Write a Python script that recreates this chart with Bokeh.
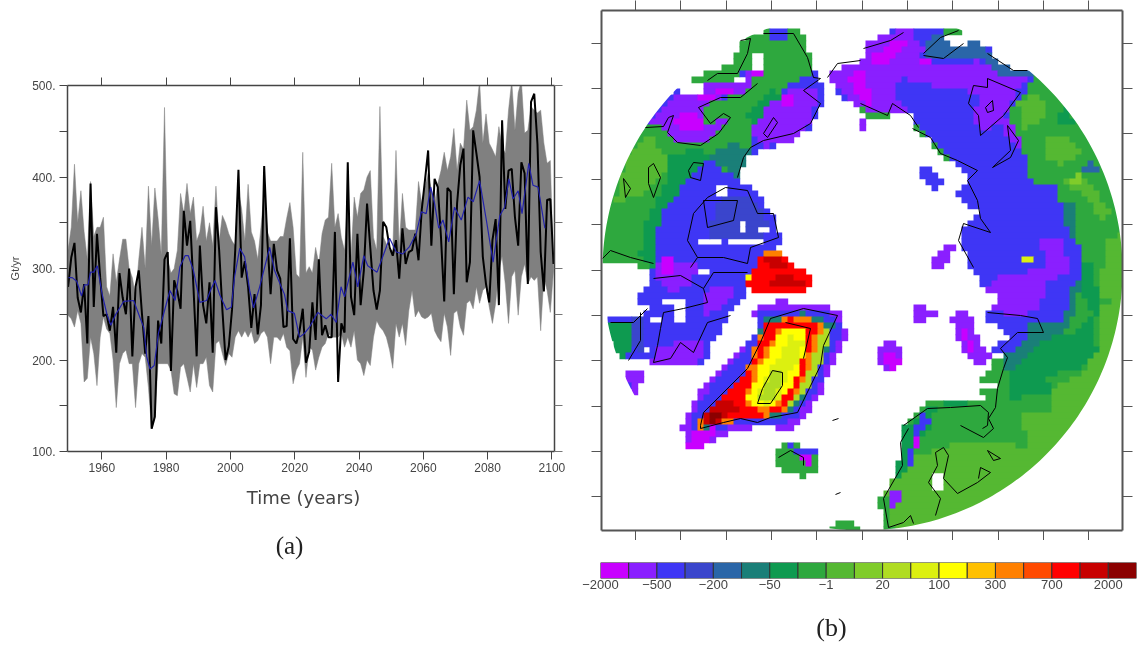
import numpy as np
from bokeh.plotting import figure
from bokeh.layouts import row, column
from bokeh.embed import file_html
from bokeh.resources import INLINE
from bokeh.core.properties import value
from bokeh.models import (Range1d, LinearAxis, FixedTicker)

# ---------- panel (a) data
first_time = 1949.5
black_series = [280,312,328,268,252,283,218,393,258,338,290,248,250,232,258,208,295,268,250,300,204,280,298,250,207,248,125,138,243,218,310,318,188,287,275,256,363,325,352,280,204,325,260,240,285,208,367,320,255,200,215,255,320,408,290,308,280,235,272,228,260,412,330,272,327,298,289,236,237,333,
 223,218,232,256,197,209,263,222,310,227,238,225,225,340,176,240,230,416,269,249,338,260,298,371,323,276,255,276,351,345,323,314,331,289,344,305,318,320,338,309,364,396,429,325,398,389,334,264,388,384,272,371,413,431,285,307,451,426,400,313,283,263,331,354,260,462,365,407,409,356,325,416,404,283,482,491,436,318,275,375,376,305]
band_upper = [320,345,414,350,385,340,310,395,335,345,345,356,280,270,316,285,310,332,332,300,290,270,310,345,300,390,325,388,355,315,476,310,295,300,320,382,360,393,360,378,330,340,368,330,350,325,390,330,358,350,338,330,325,385,365,330,392,340,330,310,345,385,340,330,330,330,335,335,355,372,
 345,294,290,427,295,302,295,323,305,338,353,356,415,345,360,334,320,378,312,378,356,382,386,400,407,334,320,477,335,327,320,320,429,323,382,345,342,342,342,395,371,389,404,386,371,393,407,427,407,422,453,407,437,430,484,451,455,473,505,437,469,437,430,422,455,433,426,473,505,451,492,505,448,451,477,473,470,473,437,415,418,300]
band_lower = [249,245,236,254,240,176,180,225,207,172,225,247,234,229,200,148,196,207,211,196,196,148,196,207,203,170,125,138,196,196,196,196,189,163,161,192,196,181,165,196,170,196,196,203,172,165,218,221,207,194,207,203,225,232,225,232,225,232,218,221,229,232,225,196,225,225,221,229,214,210,
 174,189,196,225,181,214,211,189,203,214,218,229,225,225,225,229,214,225,214,232,200,196,183,200,194,225,243,236,232,225,211,191,240,225,240,216,254,276,247,254,247,245,247,251,232,225,220,251,236,205,251,254,236,227,262,265,256,280,262,276,280,258,240,262,298,313,283,240,291,298,249,291,305,283,291,287,291,232,291,276,252,298]
blue_time = [1949.6,1950.8,1952.2,1953.7,1954.6,1955.7,1956.5,1957.5,1958.6,1960.1,1961.6,1962.8,1964.2,1966.8,1969.9,1972,1973,1974,1975,1976.3,1977.6,1979.2,1981.2,1982.8,1984.3,1985.9,1986.9,1988.5,1990.5,1992.6,1993.8,1995.2,1996.7,1998.8,2000.3,2001.3,2002.9,2004.4,2006,2007.2,2009.1,2010.4,2012.2,2013.7,2015.8,
 2016.8,2017.8,2019.9,2021.5,2023,2024.6,2027.2,2029.8,2031.3,2032.9,2034.4,2035.5,2038.1,2039.6,2041.5,2042.7,2045.6,2049.5,2051.6,2053.6,2055.7,2057.8,2059.4,2060.9,2062.3,2063.5,2064.8,2066.1,2067.9,2069.7,2071.8,2073.9,2075.5,2077.5,2079.6,2081.7,2083.8,2085.3,2086.6,2087.9,2089.5,2090.7,2092.8,2094.1,2095.7,2097.8]
blue_values = [290,290,286,270,282,282,296,296,303,272,250,238,249,264,265,245,236,203,190,194,229,250,276,265,302,314,314,298,263,265,276,287,271,255,258,291,322,313,276,257,280,298,323,298,280,
 272,254,251,225,229,236,252,245,250,241,280,269,307,280,314,303,296,333,318,316,324,338,362,360,389,371,344,353,329,367,353,378,373,396,353,307,358,367,398,376,385,360,415,391,389,344]
year_ticks = [1960,1980,2000,2020,2040,2060,2080,2100]
gt_ticks = [100,200,300,400,500]
gt_minor = [150,250,350,450]

# ---------- panel (b) data
level_colors = ["#C800FF","#8A1FFF","#3F36F5","#3A45CC","#2A66A8","#1A7F78","#0E9A50","#2EA83E","#55B832","#80CC2A","#B0DC22","#DCF010","#FFFF00","#FFC000","#FF8000","#FF4A00","#FF0000","#C80000","#8B0000"]
level_labels = ["\u22122000","\u2212500","\u2212200","\u221250","\u22121","20","100","300","700","2000"]
lon_ticks = [635,680,726,771,816,862,907,952,998,1043,1088]
lat_ticks = [43,88,133,179,224,270,315,360,406,451,496]

def box(x0,x1,y0,y1): return [(x0,y0),(x1,y0),(x1,y1),(x0,y1)]

canada = [(590,262),(615,262),(640,265),(653,266),(647,285),(632,298),(653,308),(640,315),(613,316),(600,323),(618,358),(623,368),(630,400),(645,372),(650,362),(670,363),(700,362),(707,355),(713,338),(723,325),(730,308),(747,292),(745,282),(765,270),(775,250),(782,240),(770,210),(753,190),(737,177),(747,157),(763,148),(793,138),(810,127),(820,107),(823,87),(813,70),(808,50),(803,33),(787,26),(763,30),(740,40),(733,60),(713,70),(690,78),(672,90),(640,110),(590,200)]
canada_layers = [
 (7,[(590,266),(653,266),(655,240),(662,213),(673,197),(690,177),(707,155),(725,170),(735,178),(747,157),(753,135),(760,123),(745,113),(763,107),(787,85),(812,72),(808,50),(803,33),(787,26),(763,30),(740,40),(733,60),(740,70),(746,78),(730,95),(700,107),(705,127),(730,117),(718,133),(700,145),(677,142),(667,130),(660,115),(643,128),(620,150),(590,200)]),
 (7,[(672,90),(690,76),(713,68),(733,58),(742,68),(733,80),(703,82),(680,88)]),
 (3,[(715,200),(750,195),(770,225),(750,245),(710,235)]),
 (6,[(653,267),(655,240),(662,213),(673,197),(690,177),(707,157),(697,147),(670,157),(670,177),(657,197),(643,227),(640,253)]),
 (5,[(707,157),(737,177),(750,150),(733,143),(717,147)]),
 (8,[(623,160),(647,133),(670,160),(662,173),(645,192),(613,203),(622,173)]),
 (6,[(757,130),(770,110),(790,95),(770,90),(745,115)]),
 (1,[(647,123),(670,98),(703,107),(705,127),(730,113),(718,133),(700,145),(677,142),(667,130)]),
 (0,[(680,110),(697,112),(703,127),(683,132),(673,123)]),
 (1,[(673,93),(703,83),(733,80),(750,67),(753,83),(740,95),(720,97),(700,107),(670,98)]),
 (0,[(700,97),(723,87),(737,88),(723,95),(703,102)]),
 (2,[(790,90),(803,78),(820,78),(823,97),(812,115),(790,100)]),
 (1,[(750,133),(765,107),(790,90),(803,85),(815,90),(813,120),(797,137),(763,147)]),
 (0,[(780,98),(790,93),(793,107),(782,107)]),
 (0,box(752,762,60,75)),
 (2,box(772,785,30,42)),
 (1,[(653,265),(700,265),(690,282),(673,292),(655,278)]),
 (0,box(660,676,255,272)),
 (1,[(707,288),(737,285),(723,308),(707,315),(700,302)]),
 (1,[(655,345),(680,342),(707,338),(703,358),(690,363),(650,362)]),
 (6,[(607,322),(628,320),(630,345),(623,365),(610,340)]),
 (3,[(628,320),(645,312),(645,352),(630,345)]),
 (1,[(623,368),(645,372),(633,397)]),
]
canada_holes = [box(718,730,187,197),box(737,747,222,232),box(760,768,227,233),box(695,720,237,245),box(725,763,238,245),
 [(663,298),(703,303),(683,307),(682,320),(673,320),(672,307),(663,305)],box(650,660,318,324),box(642,652,345,355),box(698,707,267,272),box(692,700,278,283),
 box(680,690,85,95),box(693,703,85,95),box(733,743,75,83),box(753,763,55,72),box(622,648,360,368)]

eurasia = [(827,75),(845,62),(860,63),(868,40),(887,32),(897,25),(910,30),(930,25),(955,28),(963,32),(945,37),(950,47),(963,47),(970,38),(987,47),(993,58),(1013,70),(1027,70),(1060,60),(1170,200),(1170,400),(1000,570),(890,560),(880,508),(880,495),(893,478),(903,442),(903,425),(913,415),(922,403),(943,400),(960,398),(978,402),(978,393),(988,385),(980,380),(990,368),(993,350),(1000,340),(1017,335),(1007,333),(985,318),(990,307),(1003,290),(983,290),(970,265),(960,240),(963,227),(973,220),(977,210),(970,207),(958,193),(967,180),(957,163),(940,155),(930,140),(912,128),(912,115),(890,110),(887,117),(867,115),(857,107),(847,100),(835,88)]
eurasia_layers = [
 (8,[(900,560),(880,470),(960,440),(990,445),(1013,445),(1030,448),(1020,415),(1057,408),(1047,392),(1080,372),(1097,352),(1100,308),(1118,298),(1125,265),(1170,265),(1170,600)]),
 (7,[(930,422),(957,412),(983,408),(987,422),(960,438),(940,438)]),
 (6,[(913,415),(943,402),(977,400),(943,408),(930,412)]),
 (8,[(1017,103),(1037,93),(1048,107),(1037,125),(1023,128)]),
 (8,[(1045,140),(1057,132),(1073,140),(1080,155),(1060,165),(1047,157)]),
 (8,[(1060,183),(1080,170),(1100,197),(1110,213),(1100,220),(1087,197)]),
 (9,[(1068,177),(1080,173),(1083,183),(1073,185)]),
 (8,[(1108,240),(1125,230),(1125,300),(1095,300)]),
 (6,[(1053,113),(1067,107),(1073,123),(1063,127)]),
 (4,[(1080,170),(1093,160),(1103,173),(1087,175)]),
 (6,[(1007,372),(1030,338),(1073,335),(1093,312),(1073,285),(1073,265),(1093,265),(1100,308),(1090,322),(1097,352),(1080,368),(1047,375),(1050,395),(1007,398)]),
 (5,[(1073,265),(1080,285),(1073,312),(1063,332),(1040,342),(1020,365),(1007,375),(1000,358),(970,300),(1040,200),(1073,200)]),
 (2,[(1033,80),(1017,100),(1008,115),(1020,140),(1025,160),(1025,175),(1040,185),(1057,187),(1063,213),(1067,233),(1083,247),(1083,270),(1073,285),(1067,308),(1060,322),(1030,325),(1020,345),(1000,358),(985,340),(970,300),(950,230),(950,160),(900,105),(840,100),(820,70),(860,30),(900,15),(1000,40)]),
 (1,[(993,278),(1020,272),(1067,265),(1073,268),(1047,282),(1037,308),(1017,318),(987,308),(985,288)]),
 (1,[(1040,240),(1060,240),(1070,267),(1047,270)]),
 (1,[(860,63),(867,40),(897,30),(910,30),(923,50),(920,63),(960,63),(977,60),(1010,77),(1027,77),(1013,93),(1003,113),(1017,133),(1023,157),(1010,140),(1000,123),(980,93),(940,87),(900,77),(893,93),(910,115),(890,110),(867,115),(860,103)]),
 (1,[(827,75),(845,62),(860,63),(870,100),(870,108),(857,107),(835,88)]),
 (1,[(988,83),(1017,93),(1003,117),(980,133),(973,113)]),
 (0,[(870,57),(897,37),(907,43),(890,63),(873,67)]),
 (0,[(847,77),(865,67),(870,105),(857,93)]),
 (0,box(921,932,56,64)),
 (4,[(923,50),(933,33),(955,30),(943,43),(963,43),(970,38),(987,50),(1013,70),(1027,70),(1037,78),(1020,77),(1003,77),(987,63),(977,57),(947,58),(927,55)]),
 (7,box(944,959,28,35)),
 (11,box(1023,1033,256,264)),
 (6,[(903,425),(930,410),(930,425),(918,440),(905,470),(893,480),(903,445)]),
 (2,[(920,412),(930,422),(917,435),(913,465),(907,462),(913,432)]),
 (0,box(911,919,439,448)),
 (1,[(890,493),(900,493),(898,505),(893,515),(892,505)]),
]
eurasia_holes = [box(932,942,473,488),box(987,995,382,388),box(992,1005,355,360),box(980,988,397,403)]

north_red = [(760,253),(783,253),(787,263),(803,268),(815,287),(797,290),(763,292),(747,287),(745,272),(758,268)]
north_red_layers = [
 (17,[(767,278),(790,275),(807,282),(790,288),(767,288)]),
 (17,[(765,258),(783,258),(785,268),(770,270)]),
 (14,box(760,780,250,258)),
 (12,box(745,752,270,280)),
]

greenland = [(753,308),(777,300),(803,302),(823,305),(840,313),(847,335),(830,365),(823,388),(797,425),(787,430),(763,425),(740,430),(717,435),(703,447),(690,450),(680,427),(690,405),(703,385),(723,367),(757,328)]
greenland_layers = [
 (2,[(758,312),(803,307),(837,315),(842,335),(825,365),(817,388),(797,415),(785,425),(757,422),(733,425),(703,432),(697,432),(688,422),(700,398),(723,373),(760,328)]),
 (0,[(690,430),(715,425),(712,437),(700,448),(688,445)]),
 (5,[(763,318),(803,312),(833,322),(830,345),(817,368),(807,392),(790,412),(777,418),(757,415),(730,422),(703,428),(698,422),(723,395),(747,368)]),
 (10,[(820,328),(833,325),(820,365),(803,395),(787,412),(780,405),(803,372)]),
 (14,[(763,323),(803,315),(823,323),(817,348),(803,378),(787,408),(757,418),(723,422),(700,428),(697,420),(723,397),(747,368)]),
 (16,[(767,322),(790,318),(820,323),(810,345),(803,375),(785,407),(770,412),(757,417),(730,417),(703,428),(700,422),(723,398),(750,368),(760,342)]),
 (17,[(705,415),(723,398),(740,405),(730,415),(707,427)]),
 (18,[(707,417),(720,408),(722,418),(708,423)]),
 (14,[(780,328),(807,332),(803,358),(780,402),(770,410),(747,408),(743,403),(753,368),(767,345)]),
 (12,[(783,325),(803,328),(808,342),(800,365),(787,392),(770,407),(750,408),(747,398),(757,372),(770,348)]),
 (11,[(787,333),(803,342),(797,362),(783,382),(780,398),(763,405),(757,397),(767,372),(783,352)]),
 (10,[(770,372),(782,372),(783,382),(770,402),(757,403),(762,388)]),
]

iceland = [(783,440),(797,445),(818,450),(817,468),(803,477),(778,468),(775,448)]
iceland_layers = [
 (2,[(783,440),(795,445),(817,450),(810,458),(795,452),(785,448)]),
 (0,[(797,452),(812,455),(812,465),(798,462)]),
]
south_tip = [(830,531),(842,518),(848,518),(858,531)]
svalbard = [(877,348),(890,335),(898,345),(903,360),(893,373),(880,362)]
svalbard_layers = [(0,[(880,350),(890,350),(900,362),(892,372)])]
franz = [(913,307),(923,303),(935,313),(920,323),(915,318)]
zemlya = [(955,307),(968,308),(972,325),(987,352),(990,360),(978,365),(963,348),(950,320)]
zemlya_layers = [(0,[(957,322),(963,325),(977,352),(970,355)])]
severnaya = [(943,247),(955,243),(950,257),(940,267),(925,263)]
sib_island = [(918,173),(923,165),(945,180),(935,188)]
tail_island = box(857,868,116,130)

map_groups = [
 (canada,2,canada_layers,canada_holes),
 (eurasia,7,eurasia_layers,eurasia_holes),
 (north_red,16,north_red_layers,[]),
 (greenland,1,greenland_layers,[]),
 (iceland,7,iceland_layers,[]),
 (south_tip,7,[],[]),
 (svalbard,1,svalbard_layers,[]),
 (franz,1,[],[]),
 (zemlya,1,zemlya_layers,[]),
 (severnaya,1,[],[]),
 (sib_island,2,[],[]),
 (tail_island,1,[],[]),
]

coast_lines = [
 [(645,127),(663,126),(668,117),(673,115),(667,132),(677,142),(700,145),(718,133),(730,117),(723,113),(710,123),(698,107),(720,97),(740,97),(757,83)],
 [(740,40),(750,38),(747,53),(737,73),(717,73),(707,80)],
 [(763,33),(793,33),(807,57),(813,77),(820,78),(803,90),(820,103),(810,123),(793,133),(763,140),(750,147),(743,157),(737,177)],
 [(763,133),(773,117),(777,122),(767,137),(763,133)],
 [(648,167),(653,163),(660,177),(653,197),(648,183),(648,167)],
 [(623,178),(630,188),(625,197),(623,178)],
 [(688,170),(693,162),(703,163),(700,180),(690,177),(688,170)],
 [(602,258),(610,250),(630,257),(653,263)],
 [(725,187),(707,197),(693,213),(687,240),(697,257),(690,267)],
 [(725,187),(747,190),(757,213),(773,213),(778,237),(750,247),(747,263),(723,257),(697,257)],
 [(703,200),(737,200),(733,220),(707,227),(703,200)],
 [(653,278),(680,275),(703,288),(713,272),(747,272)],
 [(703,288),(707,302),(683,308),(663,312),(660,328),(657,345),(653,362),(670,358),(680,342),(693,352),(707,322),(730,315)],
 [(610,322),(633,322),(647,308)],
 [(640,312),(640,340),(628,360)],
 [(700,425),(703,412),(740,375),(747,368),(760,342),(770,318),(803,308),(837,315),(823,345),(820,365),(797,412),(770,417),(757,422),(740,418),(723,422),(700,428),(700,425)],
 [(785,322),(810,328),(803,358)],
 [(772,370),(782,372),(782,385),(770,403),(757,403),(762,388),(772,370)],
 [(778,457),(790,450),(803,457),(803,465)],
 [(987,78),(1020,92),(1003,115),(980,135),(978,115),(968,103),(973,85),(987,87),(987,78)],
 [(985,107),(992,100),(993,110),(987,112),(985,107)],
 [(1007,125),(1018,140),(1010,157),(992,167),(1010,150),(1007,125)],
 [(863,48),(890,40),(903,32)],
 [(923,53),(940,37),(958,30)],
 [(923,55),(943,58),(963,43)],
 [(987,53),(1013,70),(1027,70)],
 [(912,128),(930,137),(940,153),(957,160),(977,170),(967,180),(977,200),(980,218),(990,232),(963,223),(958,240),(973,267)],
 [(827,77),(837,63),(860,60)],
 [(860,103),(887,115),(892,103),(910,115),(918,127)],
 [(987,312),(1020,315),(1037,318),(1043,332),(1017,332),(1000,348),(1007,357),(1003,368),(997,388),(995,407),(988,418),(993,428),(983,437),(960,425)],
 [(903,425),(927,408),(950,407),(980,405),(988,412),(987,425),(982,428)],
 [(908,428),(900,442),(902,465),(883,498),(888,527),(903,522),(910,515),(913,523)],
 [(943,447),(935,452),(937,465),(928,482),(940,498),(935,515)],
 [(943,447),(948,455),(943,478),(957,493),(977,482),(990,472),(980,467),(978,478)],
 [(987,450),(1000,458),(993,460),(987,450)],
 [(835,494),(840,492)],[(832,420),(838,418)],
]

# ---------- rasterise the map regions on the model's coarse grid
MAP_X0, MAP_X1, MAP_Y0, MAP_Y1 = 601, 1122, 10, 530
CELL = 6
CX, CY, RAD = 862, 270, 260

def inside(poly, X, Y):
    res = np.zeros(X.shape, dtype=bool)
    n = len(poly)
    for k in range(n):
        x1, y1 = poly[k]
        x2, y2 = poly[(k + 1) % n]
        cond = (y1 > Y) != (y2 > Y)
        xint = (x2 - x1) * (Y - y1) / (y2 - y1 + 1e-12) + x1
        res ^= cond & (X < xint)
    return res

nx, ny = MAP_X1 - MAP_X0, MAP_Y1 - MAP_Y0
ccx = MAP_X0 + (np.arange(nx // CELL + 2) + 0.5) * CELL
ccy = MAP_Y0 + (np.arange(ny // CELL + 2) + 0.5) * CELL
GX, GY = np.meshgrid(ccx, ccy)
coarse = np.full(GX.shape, -1, dtype=int)
for land, base, layers, holes in map_groups:
    mask = inside(land, GX, GY)
    coarse[mask] = base
    for idx, poly in layers:
        coarse[mask & inside(poly, GX, GY)] = idx
    for poly in holes:
        coarse[inside(poly, GX, GY)] = -1

q_l, q_r, q_t, q_b, q_c = [], [], [], [], []
for j in range(coarse.shape[0]):
    i = 0
    while i < coarse.shape[1]:
        v = coarse[j, i]
        k = i
        while k + 1 < coarse.shape[1] and coarse[j, k + 1] == v:
            k += 1
        if v >= 0:
            q_l.append(MAP_X0 + i * CELL)
            q_r.append(MAP_X0 + (k + 1) * CELL + 0.7)
            q_t.append(MAP_Y0 + j * CELL)
            q_b.append(MAP_Y0 + (j + 1) * CELL + 0.7)
            q_c.append(level_colors[v])
        i = k + 1

# ---------- panel (a)
TXT = "#444444"
left = figure(width=575, height=480, x_range=Range1d(1949.33, 2100.8), y_range=Range1d(100, 500),
              output_backend="svg", toolbar_location=None, x_axis_location=None, y_axis_location=None,
              min_border_left=67, min_border_right=21, min_border_top=85, min_border_bottom=29, frame_align=False)
left.grid.visible = False
left.outline_line_color = None

t_upper = first_time + np.arange(len(band_upper))
t_lower = first_time + np.arange(len(band_lower))
left.patch(np.r_[t_upper, t_lower[::-1]], np.r_[band_upper, band_lower[::-1]], fill_color="#808080", line_color="#808080", line_width=0.5)
left.line(first_time + np.arange(len(black_series)), black_series, line_color="black", line_width=2)
left.line(blue_time, blue_values, line_color="#2222AA", line_width=1.2)

def side_axis(fig, where, ticks, minor=None, labels=None, tick_col=TXT, out=8, lw=1.5, col=TXT):
    ax = LinearAxis(ticker=FixedTicker(ticks=ticks, minor_ticks=minor or []),
                    major_tick_out=out, major_tick_in=0, minor_tick_out=out, minor_tick_in=0,
                    axis_line_color=col, axis_line_width=lw, major_tick_line_color=tick_col,
                    minor_tick_line_color=tick_col, major_tick_line_width=1, minor_tick_line_width=1)
    if labels is None:
        ax.major_label_overrides = {t: "" for t in ticks}
        ax.major_label_standoff = 0
    else:
        ax.major_label_overrides = labels
        ax.major_label_text_font = "Liberation Sans"
        ax.major_label_text_font_size = "12px"
        ax.major_label_text_color = TXT
    fig.add_layout(ax, where)
    return ax

b = side_axis(left, "below", year_ticks, labels={y: str(y) for y in year_ticks})
b.major_label_standoff = 3
l = side_axis(left, "left", gt_ticks, minor=gt_minor, labels={y: f"{y}." for y in gt_ticks})
l.major_label_standoff = 4
l.axis_label = "Gt/yr"
l.axis_label_text_font = "Liberation Sans"
l.axis_label_text_font_size = "11px"
l.axis_label_text_font_style = "normal"
l.axis_label_text_color = TXT
l.axis_label_standoff = 8
side_axis(left, "above", year_ticks)
side_axis(left, "right", gt_ticks, minor=gt_minor, tick_col="#777777")

def caption_fig(w, h, x0, y0):
    c = figure(width=w, height=h, x_range=Range1d(x0, x0 + w), y_range=Range1d(y0 + h, y0),
               output_backend="svg", toolbar_location=None, x_axis_location=None, y_axis_location=None,
               min_border_left=0, min_border_right=0, min_border_top=0, min_border_bottom=0, frame_align=False)
    c.grid.visible = False
    c.outline_line_color = None
    return c

cap_left = caption_fig(575, 166, 0, 480)
cap_left.text([303], [497], text=["Time (years)"], text_font=value("DejaVu Sans"), text_font_size="18px",
              text_align="center", text_baseline="middle", text_color=TXT)
cap_left.text([289], [545], text=["(a)"], text_font=value("Liberation Serif"), text_font_size="25px",
              text_align="center", text_baseline="middle", text_color="#222222")

# ---------- panel (b) map
mp = figure(width=562, height=540, x_range=Range1d(MAP_X0, MAP_X1), y_range=Range1d(MAP_Y1, MAP_Y0),
            output_backend="svg", toolbar_location=None, x_axis_location=None, y_axis_location=None,
            min_border_left=26, min_border_right=15, min_border_top=10, min_border_bottom=10, frame_align=False)
mp.grid.visible = False
mp.outline_line_color = None
mp.quad(left=q_l, right=q_r, top=q_t, bottom=q_b, fill_color=q_c, line_color=None)
theta = np.linspace(0, 2 * np.pi, 361)
rim_x = (CX + RAD * np.cos(theta)).tolist()
rim_y = (CY + RAD * np.sin(theta)).tolist()
outer_x = [MAP_X0 - 5, MAP_X1 + 5, MAP_X1 + 5, MAP_X0 - 5]
outer_y = [MAP_Y0 - 5, MAP_Y0 - 5, MAP_Y1 + 5, MAP_Y1 + 5]
mp.multi_polygons(xs=[[[outer_x, rim_x]]], ys=[[[outer_y, rim_y]]], fill_color="white", line_color=None)
mp.multi_line([[p[0] for p in c] for c in coast_lines], [[p[1] for p in c] for c in coast_lines], line_color="black", line_width=1)
FRAME = "#555555"
for where, ticks in (("above", lon_ticks), ("below", lon_ticks), ("left", lat_ticks), ("right", lat_ticks)):
    side_axis(mp, where, ticks, out=10, lw=2, col=FRAME, tick_col=FRAME)

# ---------- colour bar
cb = figure(width=562, height=60, x_range=Range1d(0, len(level_colors)), y_range=Range1d(0, 1),
            output_backend="svg", toolbar_location=None, x_axis_location=None, y_axis_location=None,
            min_border_left=25, min_border_right=1, min_border_top=22, min_border_bottom=22, frame_align=False)
cb.grid.visible = False
cb.outline_line_color = None
lev = np.arange(len(level_colors))
cb.quad(left=lev, right=lev + 1, bottom=0, top=1, fill_color=level_colors, line_color="#333333", line_width=1)
cb_pos = list(range(0, 2 * len(level_labels), 2))
ax = LinearAxis(ticker=FixedTicker(ticks=cb_pos), major_label_overrides=dict(zip(cb_pos, level_labels)),
                major_tick_line_color=None, axis_line_color=None, major_tick_out=0, major_tick_in=0,
                major_label_standoff=1, major_label_text_font="Liberation Sans", major_label_text_font_size="13px",
                major_label_text_color=TXT)
cb.add_layout(ax, "below")

cap_right = caption_fig(562, 46, 575, 600)
cap_right.text([831], [627], text=["(b)"], text_font=value("Liberation Serif"), text_font_size="26px",
               text_align="center", text_baseline="middle", text_color="#222222")

page = row(column(left, cap_left, spacing=0), column(mp, cb, cap_right, spacing=0), spacing=0)
page.styles = {"position": "fixed", "left": "0px", "top": "0px"}
open("out.html", "w").write(file_html(page, INLINE))
